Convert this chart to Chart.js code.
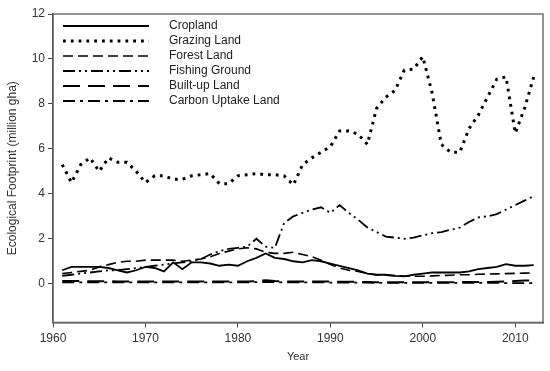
<!DOCTYPE html>
<html>
<head>
<meta charset="utf-8">
<script src="https://cdn.jsdelivr.net/npm/chart.js@4.4.1/dist/chart.umd.min.js"></script>
<style>
html,body{margin:0;padding:0;background:#fff;}
#c{display:block;}
</style>
</head>
<body>
<canvas id="c" width="550" height="371"></canvas>
<script>
const years = [1961,1962,1963,1964,1965,1966,1967,1968,1969,1970,
  1971,1972,1973,1974,1975,1976,1977,1978,1979,1980,
  1981,1982,1983,1984,1985,1986,1987,1988,1989,1990,
  1991,1992,1993,1994,1995,1996,1997,1998,1999,2000,
  2001,2002,2003,2004,2005,2006,2007,2008,2009,2010,2011,2012];

const cropland = [0.6,0.75,0.75,0.75,0.75,0.7,0.6,0.5,0.6,0.75,
  0.7,0.55,0.95,0.65,0.95,0.95,0.9,0.8,0.85,0.8,
  1.0,1.15,1.35,1.15,1.1,1.0,0.95,1.05,1.0,0.9,
  0.8,0.7,0.6,0.45,0.4,0.4,0.35,0.33,0.4,0.45,
  0.5,0.5,0.5,0.5,0.55,0.65,0.7,0.75,0.87,0.8,0.8,0.83];

const grazing = [5.3,4.5,5.3,5.6,5.0,5.6,5.4,5.4,5.0,4.5,
  4.8,4.8,4.65,4.65,4.8,4.85,4.9,4.45,4.45,4.8,
  4.85,4.9,4.85,4.85,4.8,4.4,5.3,5.6,5.85,6.1,
  6.8,6.8,6.65,6.2,7.8,8.3,8.6,9.5,9.55,10.1,
  8.5,6.2,5.85,5.85,6.9,7.5,8.3,9.1,9.2,6.7,7.8,9.2];

const forest = [0.45,0.5,0.55,0.6,0.75,0.85,0.95,1.0,1.0,1.05,
  1.05,1.05,1.05,1.0,1.05,1.1,1.2,1.35,1.45,1.55,
  1.6,1.55,1.4,1.35,1.35,1.4,1.3,1.2,1.05,0.85,
  0.7,0.6,0.55,0.45,0.4,0.38,0.36,0.34,0.33,0.33,
  0.35,0.37,0.38,0.4,0.4,0.42,0.43,0.44,0.45,0.46,0.47,0.48];

const fishing = [0.35,0.4,0.45,0.5,0.55,0.6,0.6,0.65,0.7,0.75,
  0.8,0.85,0.9,0.95,1.0,1.1,1.3,1.45,1.55,1.6,
  1.65,2.0,1.65,1.6,2.7,3.0,3.15,3.3,3.4,3.15,
  3.5,3.15,2.85,2.5,2.3,2.1,2.05,2.0,2.05,2.15,
  2.25,2.3,2.4,2.5,2.75,2.95,3.0,3.1,3.3,3.5,3.7,3.9];

const builtUp = [0.12,0.12,0.12,0.11,0.11,0.11,0.1,0.1,0.1,0.1,
  0.1,0.1,0.1,0.1,0.1,0.1,0.1,0.1,0.1,0.1,
  0.1,0.12,0.15,0.12,0.1,0.1,0.1,0.1,0.1,0.1,
  0.09,0.09,0.08,0.08,0.07,0.07,0.07,0.07,0.07,0.07,
  0.07,0.07,0.07,0.07,0.08,0.08,0.08,0.09,0.1,0.12,0.14,0.15];

const carbon = [0.06,0.06,0.06,0.06,0.06,0.06,0.06,0.06,0.06,0.06,
  0.06,0.06,0.06,0.06,0.06,0.06,0.06,0.06,0.06,0.06,
  0.06,0.07,0.08,0.07,0.06,0.06,0.06,0.06,0.06,0.05,
  0.05,0.05,0.05,0.05,0.04,0.04,0.04,0.04,0.04,0.04,
  0.04,0.04,0.04,0.04,0.04,0.04,0.04,0.04,0.03,0.03,0.03,0.03];

const xTicks = [1960,1970,1980,1990,2000,2010];
const yTicks = [0,2,4,6,8,10,12];

const seriesNames = ['Cropland','Grazing Land','Forest Land','Fishing Ground','Built-up Land','Carbon Uptake Land'];

const FONT = '"Liberation Sans", Arial, Helvetica, sans-serif';

function pts(vals){ return years.map((yr,i)=>({x:yr,y:vals[i]})); }

const styles = [
  {borderWidth:1.8, borderDash:[]},
  {borderWidth:3, borderDash:[2.8,5]},
  {borderWidth:1.6, borderDash:[10,5]},
  {borderWidth:1.8, borderDash:[12,4,2,4,2,4]},
  {borderWidth:2, borderDash:[17,8]},
  {borderWidth:1.8, borderDash:[12,5,3,5]}
];

const allData = [cropland, grazing, forest, fishing, builtUp, carbon];

const datasets = allData.map((d,i)=>({
  label: seriesNames[i],
  data: pts(d),
  borderColor:'#000',
  backgroundColor:'#000',
  borderWidth: styles[i].borderWidth,
  borderDash: styles[i].borderDash,
  pointRadius:0,
  tension:0,
  fill:false
}));

const framePlugin = {
  id:'frame',
  afterDraw(chart){
    const {ctx, chartArea:a} = chart;
    ctx.save();
    ctx.strokeStyle = '#666';
    ctx.lineWidth = 1.4;
    ctx.setLineDash([]);
    ctx.strokeRect(a.left, a.top, a.right-a.left, a.bottom-a.top);
    ctx.restore();
  }
};

const legendPlugin = {
  id:'innerLegend',
  afterDatasetsDraw(chart){
    const {ctx, chartArea:a} = chart;
    ctx.save();
    chart.data.datasets.forEach((ds,i)=>{
      const y = a.top + 12 + i*15;
      ctx.beginPath();
      ctx.strokeStyle = '#000';
      ctx.lineWidth = ds.borderWidth;
      ctx.setLineDash(ds.borderDash);
      ctx.lineCap = 'butt';
      ctx.moveTo(a.left + 10, y);
      ctx.lineTo(a.left + 96, y);
      ctx.stroke();
      ctx.setLineDash([]);
      ctx.fillStyle = '#222';
      ctx.font = '12px ' + FONT;
      ctx.textBaseline = 'middle';
      ctx.textAlign = 'left';
      ctx.fillText(ds.label, a.left + 116, y);
    });
    ctx.restore();
  }
};

new Chart(document.getElementById('c'), {
  type:'line',
  data:{datasets},
  options:{
    responsive:false,
    animation:false,
    layout:{padding:{top:14,right:7,left:0,bottom:0}},
    plugins:{legend:{display:false}, tooltip:{enabled:false}},
    scales:{
      x:{
        type:'linear',
        min:1960, max:2013,
        afterBuildTicks(scale){ scale.ticks = xTicks.map(v=>({value:v})); },
        ticks:{color:'#333', font:{family:FONT, size:12}, padding:4,
          callback:(v)=>String(v), maxRotation:0, autoSkip:false},
        grid:{drawOnChartArea:false, drawTicks:true, tickLength:5, color:'#444'},
        border:{display:true, color:'#444', width:1.4},
        title:{display:true, text:'Year', color:'#333', font:{family:FONT, size:11}, padding:{top:1,bottom:7}}
      },
      y:{
        type:'linear',
        min:-1.72, max:12,
        afterBuildTicks(scale){ scale.ticks = yTicks.map(v=>({value:v})); },
        afterFit(scale){ scale.width = 53; },
        ticks:{color:'#333', font:{family:FONT, size:12}, padding:3,
          callback:(v)=>String(v), autoSkip:false},
        grid:{drawOnChartArea:false, drawTicks:true, tickLength:5, color:'#444'},
        border:{display:true, color:'#444', width:1.4},
        title:{display:true, text:'Ecological Footprint (million gha)', color:'#333', font:{family:FONT, size:12}, padding:{top:5,bottom:0}}
      }
    }
  },
  plugins:[framePlugin, legendPlugin]
});
</script>
</body>
</html>
